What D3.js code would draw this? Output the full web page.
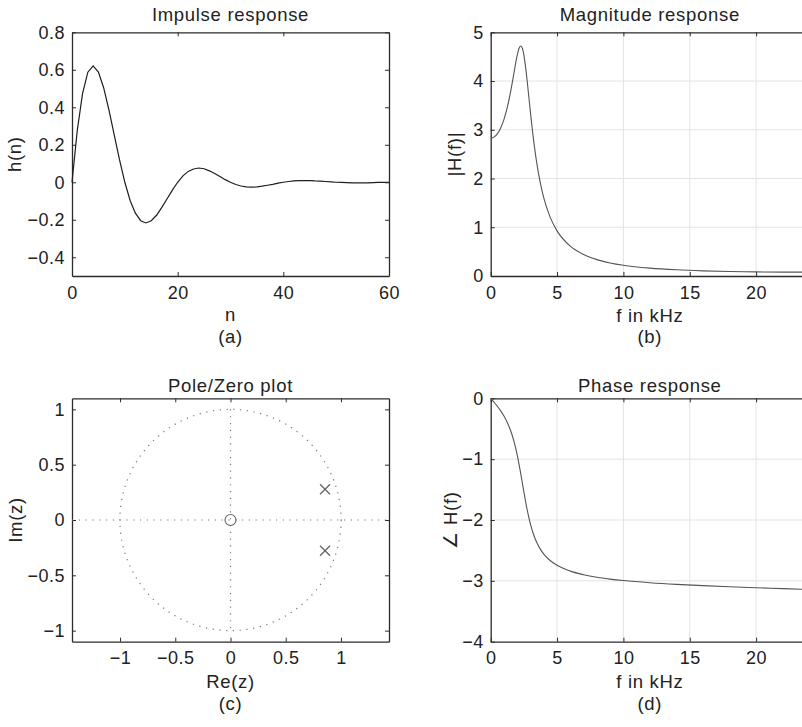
<!DOCTYPE html>
<html>
<head>
<meta charset="utf-8">
<script src="https://cdn.jsdelivr.net/npm/d3@7"></script>
<style>
  html, body { margin: 0; padding: 0; background: #fff; }
  svg { display: block; font-family: "Liberation Sans", Arial, Helvetica, sans-serif; }
  .tick text { font-size: 18px; fill: #222; letter-spacing: 0.5px; }
  .lbl { font-size: 18.5px; fill: #222; letter-spacing: 0.7px; }
</style>
</head>
<body>
<svg id="chart" width="802" height="727"></svg>
<script>
// impulse response h(n), n = 0..60
const impulseValues = [
  0, 0.277, 0.474, 0.587, 0.621, 0.588, 0.503, 0.385, 0.252, 0.119,
  0, -0.097, -0.165, -0.205, -0.217, -0.205, -0.176, -0.134, -0.088, -0.042,
  0, 0.034, 0.058, 0.071, 0.076, 0.072, 0.061, 0.047, 0.031, 0.014,
  0, -0.012, -0.020, -0.025, -0.026, -0.025, -0.021, -0.016, -0.011, -0.005,
  0, 0.004, 0.007, 0.009, 0.009, 0.009, 0.007, 0.006, 0.004, 0.002,
  0, -0.001, -0.002, -0.003, -0.003, -0.003, -0.003, -0.002, -0.001, -0.001, 0
];

// frequency axis (kHz) with magnitude and phase read at those points
const freqKHz = [0, 0.25, 0.5, 0.75, 1, 1.25, 1.5, 1.75, 2, 2.125, 2.25, 2.375, 2.5, 2.625, 2.75,
  3, 3.25, 3.5, 3.75, 4, 4.5, 5, 6, 7, 8, 9, 10, 12, 14, 16, 18, 20, 22, 24];
const magValues = [2.827, 2.849, 2.917, 3.037, 3.215, 3.460, 3.779, 4.160, 4.531, 4.662, 4.720, 4.679, 4.533, 4.295, 3.997,
  3.342, 2.748, 2.268, 1.893, 1.602, 1.192, 0.926, 0.612, 0.441, 0.336, 0.268, 0.220, 0.161, 0.127, 0.106, 0.093, 0.084, 0.080, 0.079];
const phaseValues = [0, -0.064, -0.131, -0.206, -0.292, -0.397, -0.530, -0.705, -0.935, -1.072, -1.222, -1.380, -1.539, -1.692, -1.834,
  -2.071, -2.250, -2.383, -2.483, -2.560, -2.670, -2.745, -2.840, -2.899, -2.941, -2.971, -2.995, -3.031, -3.058, -3.079, -3.097, -3.113, -3.127, -3.142];

// pole / zero locations
const poles = [[0.856, 0.278], [0.856, -0.278]];
const zeros = [[0, 0]];

// tick labels
const impulseTicksX = [0, 20, 40, 60];
const impulseTicksY = [-0.4, -0.2, 0, 0.2, 0.4, 0.6, 0.8];
const freqTicks = [0, 5, 10, 15, 20];
const magTicks = [0, 1, 2, 3, 4, 5];
const phaseTicks = [-4, -3, -2, -1, 0];
const pzTicks = [-1, -0.5, 0, 0.5, 1];

const svg = d3.select("#chart");
const fmt = d => d3.format("~g")(+d.toFixed(3));
const boxColor = "#2b2b2b";

function panel(p) {
  const x = d3.scaleLinear().domain(p.xDomain).range([p.left, p.right]);
  const y = d3.scaleLinear().domain(p.yDomain).range([p.bottom, p.top]);
  const g = svg.append("g");

  if (p.grid) {
    g.append("g").selectAll("line.gx")
      .data(p.xTicks.filter(t => t > p.xDomain[0]))
      .enter().append("line")
      .attr("x1", d => x(d)).attr("x2", d => x(d))
      .attr("y1", p.top).attr("y2", p.bottom)
      .attr("stroke", "#e3e3e3").attr("stroke-width", 1);
    g.append("g").selectAll("line.gy")
      .data(p.yTicks.filter(t => t > p.yDomain[0] && t < p.yDomain[1]))
      .enter().append("line")
      .attr("x1", p.left).attr("x2", p.right)
      .attr("y1", d => y(d)).attr("y2", d => y(d))
      .attr("stroke", "#e3e3e3").attr("stroke-width", 1);
  }

  // axes, ticks pointing inward
  g.append("g")
    .attr("transform", "translate(0," + p.bottom + ")")
    .call(d3.axisBottom(x).tickValues(p.xTicks).tickFormat(fmt).tickSizeInner(-4).tickSizeOuter(0).tickPadding(10));
  g.append("g")
    .attr("transform", "translate(" + p.left + ",0)")
    .call(d3.axisLeft(y).tickValues(p.yTicks).tickFormat(fmt).tickSizeInner(-4).tickSizeOuter(0).tickPadding(7));
  g.append("g")
    .attr("transform", "translate(0," + p.top + ")")
    .call(d3.axisTop(x).tickValues(p.xTicks).tickFormat("").tickSizeInner(-4).tickSizeOuter(0));
  g.append("g")
    .attr("transform", "translate(" + p.right + ",0)")
    .call(d3.axisRight(y).tickValues(p.yTicks).tickFormat("").tickSizeInner(-4).tickSizeOuter(0));

  g.selectAll(".domain").attr("stroke", boxColor).attr("stroke-width", 1.3);
  g.selectAll(".tick line").attr("stroke", boxColor);
  g.selectAll(".tick text").attr("font-family", null).attr("font-size", null);

  // titles and labels
  const cx = (p.left + Math.min(p.right, 809)) / 2;
  g.append("text").attr("class", "lbl").attr("x", cx).attr("y", p.titleY)
    .attr("text-anchor", "middle").text(p.title);
  g.append("text").attr("class", "lbl").attr("x", cx).attr("y", p.xLabelY)
    .attr("text-anchor", "middle").text(p.xLabel);
  g.append("text").attr("class", "lbl").attr("x", cx).attr("y", p.subY)
    .attr("text-anchor", "middle").text(p.sub);
  g.append("text").attr("class", "lbl")
    .attr("transform", "translate(" + p.yLabelX + "," + (p.top + p.bottom) / 2 + ") rotate(-90)")
    .attr("text-anchor", "middle").text(p.yLabel);

  return { g, x, y };
}

// (a) impulse response
const a = panel({
  left: 72, right: 389, top: 32.3, bottom: 276,
  xDomain: [0, 60], yDomain: [-0.5, 0.8],
  xTicks: impulseTicksX, yTicks: impulseTicksY,
  title: "Impulse response", xLabel: "n", yLabel: "h(n)", sub: "(a)",
  titleY: 21, xLabelY: 321, subY: 342.5, yLabelX: 21
});
a.g.append("path")
  .datum(impulseValues)
  .attr("fill", "none").attr("stroke", "#1e1e1e").attr("stroke-width", 1.2)
  .attr("d", d3.line().x((d, i) => a.x(i)).y(d => a.y(d)));

// (b) magnitude response
const b = panel({
  left: 490.7, right: 809.2, top: 32.3, bottom: 276,
  xDomain: [0, 24], yDomain: [0, 5],
  xTicks: freqTicks, yTicks: magTicks, grid: true,
  title: "Magnitude response", xLabel: "f in kHz", yLabel: "|H(f)|", sub: "(b)",
  titleY: 21, xLabelY: 321.5, subY: 342.5, yLabelX: 461
});
b.g.append("path")
  .datum(freqKHz.map((f, i) => [f, magValues[i]]))
  .attr("fill", "none").attr("stroke", "#555").attr("stroke-width", 1.1)
  .attr("d", d3.line().curve(d3.curveMonotoneX).x(d => b.x(d[0])).y(d => b.y(d[1])));

// (c) pole/zero plot
const c = panel({
  left: 72, right: 389, top: 398.3, bottom: 641.7,
  xDomain: [-1.435, 1.435], yDomain: [-1.1, 1.1],
  xTicks: pzTicks, yTicks: pzTicks,
  title: "Pole/Zero plot", xLabel: "Re(z)", yLabel: "Im(z)", sub: "(c)",
  titleY: 392, xLabelY: 688, subY: 709.5, yLabelX: 22
});
const dotted = { stroke: "#777", "stroke-width": 1.2, "stroke-dasharray": "1.2,5.6" };
function applyDots(sel) { Object.entries(dotted).forEach(([k, v]) => sel.attr(k, v)); return sel; }
applyDots(c.g.append("circle")
  .attr("cx", c.x(0)).attr("cy", c.y(0))
  .attr("r", c.y(0) - c.y(1))
  .attr("fill", "none"));
applyDots(c.g.append("line")
  .attr("x1", c.x(-1.435)).attr("x2", c.x(1.435))
  .attr("y1", c.y(0)).attr("y2", c.y(0)));
applyDots(c.g.append("line")
  .attr("x1", c.x(0)).attr("x2", c.x(0))
  .attr("y1", c.y(1)).attr("y2", c.y(-1)));
c.g.selectAll("circle.zero")
  .data(zeros)
  .enter().append("circle")
  .attr("class", "zero")
  .attr("cx", d => c.x(d[0])).attr("cy", d => c.y(d[1]))
  .attr("r", 5.5).attr("fill", "none").attr("stroke", "#666").attr("stroke-width", 1.1);
c.g.selectAll("path.pole")
  .data(poles)
  .enter().append("path")
  .attr("class", "pole")
  .attr("d", d => {
    const px = c.x(d[0]), py = c.y(d[1]), s = 5;
    return `M${px - s},${py - s}L${px + s},${py + s}M${px - s},${py + s}L${px + s},${py - s}`;
  })
  .attr("stroke", "#666").attr("stroke-width", 1.3).attr("fill", "none");

// (d) phase response
const d = panel({
  left: 490.7, right: 809.2, top: 398.3, bottom: 641.7,
  xDomain: [0, 24], yDomain: [-4, 0],
  xTicks: freqTicks, yTicks: phaseTicks, grid: true,
  title: "Phase response", xLabel: "f in kHz", yLabel: "\u2220 H(f)", sub: "(d)",
  titleY: 392, xLabelY: 688, subY: 709.5, yLabelX: 457
});
d.g.append("path")
  .datum(freqKHz.map((f, i) => [f, phaseValues[i]]))
  .attr("fill", "none").attr("stroke", "#555").attr("stroke-width", 1.1)
  .attr("d", d3.line().curve(d3.curveMonotoneX).x(v => d.x(v[0])).y(v => d.y(v[1])));
</script>
</body>
</html>
